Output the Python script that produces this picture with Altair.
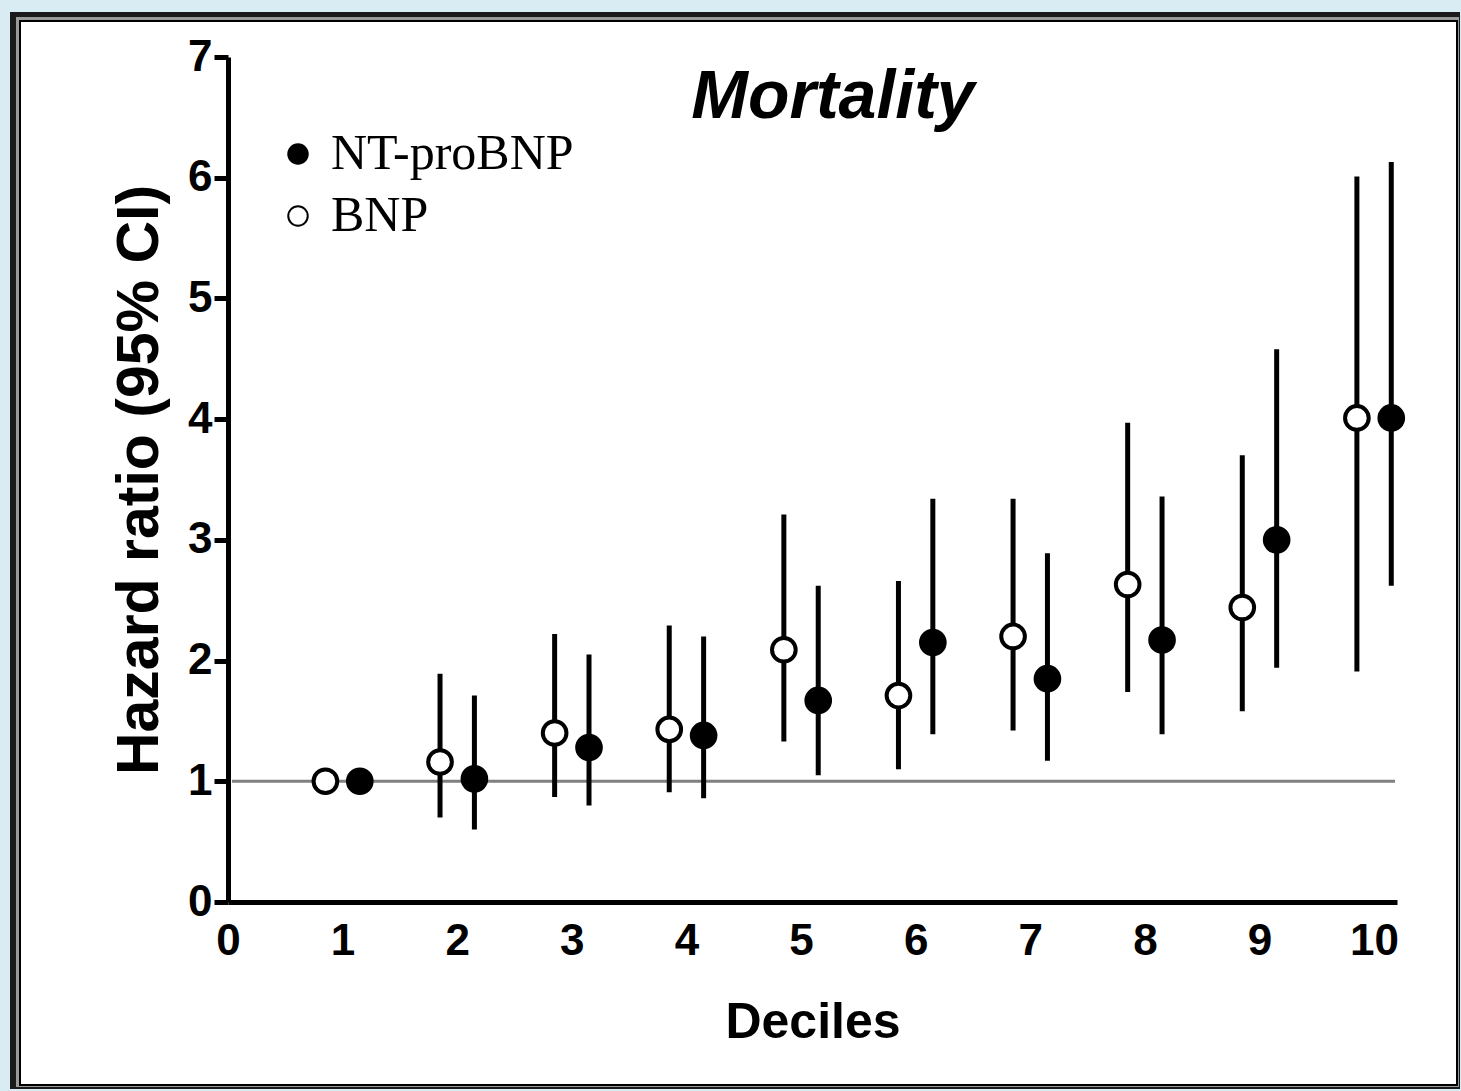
import altair as alt
import pandas as pd

# ---- data ----
deciles = [1, 2, 3, 4, 5, 6, 7, 8, 9, 10]
bnp_hr = [1.00, 1.16, 1.40, 1.43, 2.09, 1.71, 2.20, 2.63, 2.44, 4.01]
bnp_lo = [None, 0.70, 0.87, 0.91, 1.33, 1.10, 1.42, 1.74, 1.58, 1.91]
bnp_hi = [None, 1.89, 2.22, 2.29, 3.21, 2.66, 3.34, 3.97, 3.70, 6.01]
nt_hr = [1.00, 1.02, 1.28, 1.38, 1.67, 2.15, 1.85, 2.17, 3.00, 4.01]
nt_lo = [None, 0.60, 0.80, 0.86, 1.05, 1.39, 1.17, 1.39, 1.94, 2.62]
nt_hi = [None, 1.71, 2.05, 2.20, 2.62, 3.34, 2.89, 3.36, 4.58, 6.13]
series_names = ["NT-proBNP", "BNP"]
x_ticks = [0, 1, 2, 3, 4, 5, 6, 7, 8, 9, 10]
y_ticks = [0, 1, 2, 3, 4, 5, 6, 7]

rows = []
for i, d in enumerate(deciles):
    rows.append({"decile": d, "series": "BNP", "hr": bnp_hr[i], "lo": bnp_lo[i], "hi": bnp_hi[i]})
    rows.append({"decile": d, "series": "NT-proBNP", "hr": nt_hr[i], "lo": nt_lo[i], "hi": nt_hi[i]})
df = pd.DataFrame(rows)

SANS = "Liberation Sans Narrow, Liberation Sans, Arial"
W, H = 1169, 845
PL, PT = 228, 57

base = alt.Chart(df).transform_calculate(
    xpos="datum.decile + (datum.series == 'BNP' ? -0.15 : 0.15)"
)

x_enc = alt.X("xpos:Q", scale=alt.Scale(domain=[0, 10.2], nice=False, zero=False),
              axis=alt.Axis(values=x_ticks, title="Deciles", format="d", ticks=False,
                            labelFontSize=44, labelFont=SANS, labelFontWeight="bold",
                            labelColor="black", labelPadding=17, labelFlush=False,
                            titleFontSize=50, titleFont="Liberation Sans", titleFontWeight="bold",
                            titleColor="black", titlePadding=34, zindex=1,
                            domainColor="black", domainWidth=5, grid=False))
y_scale = alt.Scale(domain=[0, 7], nice=False, zero=False)
y_axis = alt.Axis(values=y_ticks, title="Hazard ratio (95% CI)", format="d",
                  tickSize=14, tickWidth=5, tickColor="black",
                  labelFontSize=44, labelFont=SANS, labelFontWeight="bold",
                  labelColor="black", labelPadding=2, labelFlush=False,
                  titleFontSize=59, titleFont="Liberation Sans", titleFontWeight="bold",
                  titleColor="black", titlePadding=18, zindex=1,
                  domainColor="black", domainWidth=5, grid=False)

# frame (decoration)
frame_df = pd.DataFrame({"k": [0]})
frame1 = alt.Chart(frame_df).mark_rect(fill="#1a1a1a").encode(
    x=alt.value(10 - PL), x2=alt.value(1460 - PL), y=alt.value(12 - PT), y2=alt.value(1089 - PT))
frame2 = alt.Chart(frame_df).mark_rect(fill="#9a9a9a").encode(
    x=alt.value(16 - PL), x2=alt.value(1459 - PL), y=alt.value(17 - PT), y2=alt.value(1087 - PT))
frame3 = alt.Chart(frame_df).mark_rect(fill="white", stroke="black", strokeWidth=2).encode(
    x=alt.value(20 - PL), x2=alt.value(1457 - PL), y=alt.value(21 - PT), y2=alt.value(1085 - PT))

ref = alt.Chart(frame_df).mark_rule(color="#808080", strokeWidth=3).encode(
    y=alt.datum(1, scale=y_scale),
    x=alt.value(4), x2=alt.value(1395 - PL))

bars = base.transform_filter("isValid(datum.lo)").mark_rule(color="black", strokeWidth=5).encode(
    x=x_enc,
    y=alt.Y("lo:Q", scale=y_scale, axis=y_axis),
    y2="hi:Q",
)

points = base.mark_point(filled=False, size=560, stroke="black", strokeWidth=4, opacity=1).encode(
    x=x_enc,
    y=alt.Y("hr:Q", scale=y_scale, axis=y_axis),
    fill=alt.Fill("series:N", scale=alt.Scale(domain=series_names, range=["black", "white"]),
                  legend=alt.Legend(title=None, orient="none", legendX=45, legendY=72,
                                    labelFont="Liberation Serif", labelFontSize=50,
                                    labelColor="black", labelOffset=8, labelLimit=600,
                                    symbolType="circle", symbolSize=380,
                                    symbolStrokeColor="black", symbolStrokeWidth=2,
                                    symbolFillColor="black", symbolOpacity=1,
                                    rowPadding=12, padding=0)),
    shape=alt.value("circle"),
)

title = alt.Chart(frame_df).mark_text(
    text="Mortality", font="Liberation Sans", fontSize=68, fontWeight="bold",
    fontStyle="italic", align="center", baseline="alphabetic", color="black"
).encode(x=alt.value(833 - PL), y=alt.value(118 - PT))

chart = alt.layer(frame1, frame2, frame3, ref, bars, points, title).properties(
    width=W, height=H,
    autosize=alt.AutoSizeParams(type="none"),
    padding={"left": PL, "top": PT, "right": 1461 - PL - W, "bottom": 1091 - PT - H},
    background="#d9ecf3",
).configure_view(strokeWidth=0)

chart.save("out.html", embed_options={"renderer": "svg", "actions": False})
